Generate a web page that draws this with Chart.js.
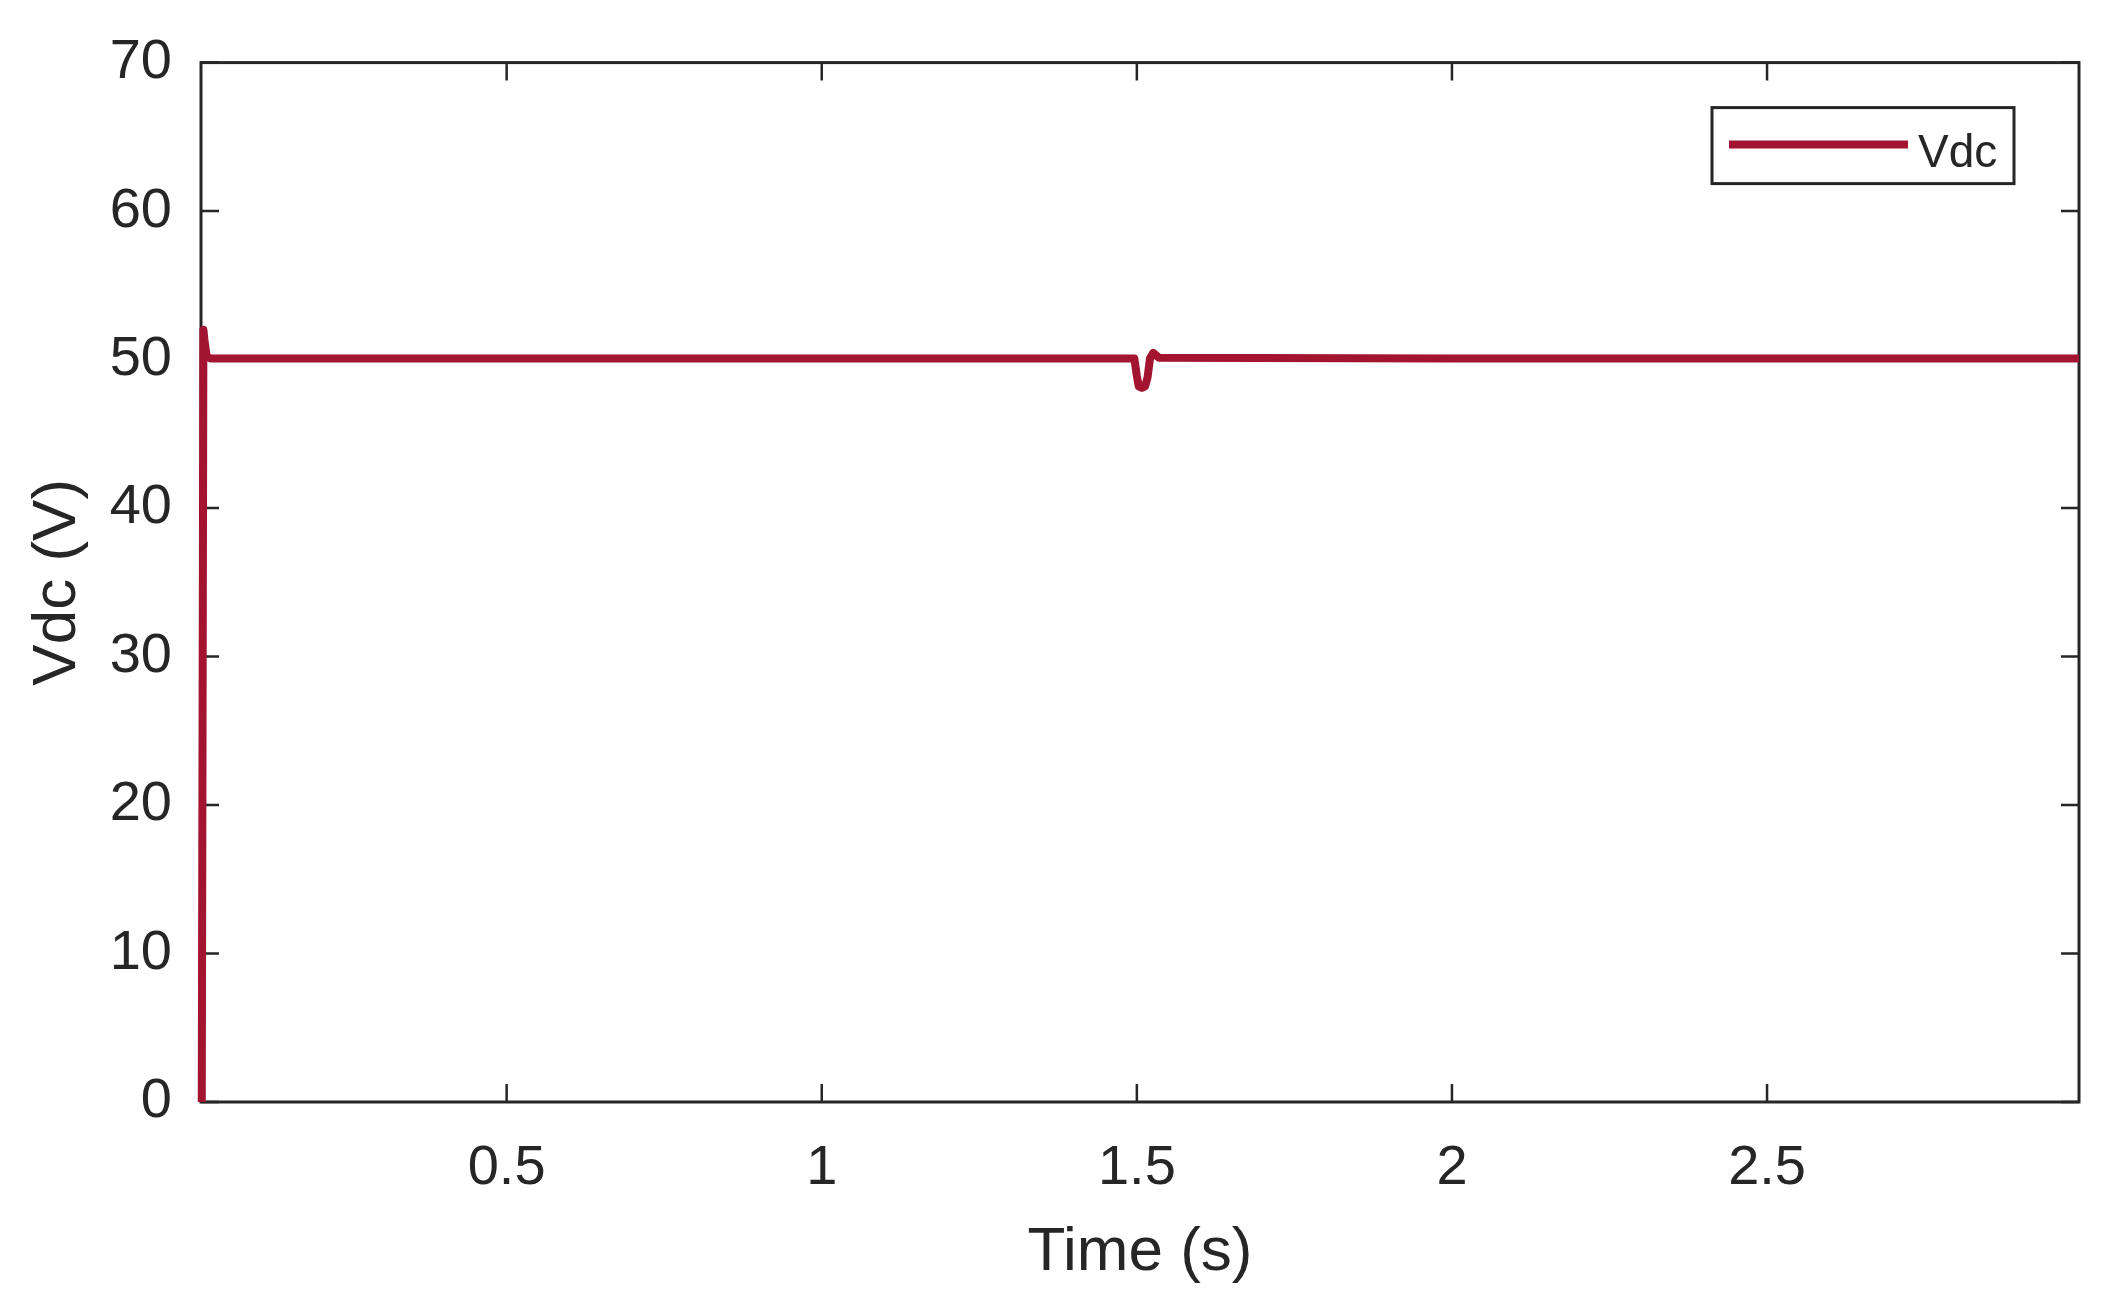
<!DOCTYPE html>
<html>
<head>
<meta charset="utf-8">
<script src="https://cdn.jsdelivr.net/npm/chart.js@4.4.1/dist/chart.umd.min.js"></script>
<style>
  html, body { margin: 0; padding: 0; background: #fff; }
  #vdcChart { display: block; }
</style>
</head>
<body>
<canvas id="vdcChart" width="2103" height="1312"></canvas>
<script>
// values
const time = [0.0162, 0.0188, 0.0205, 0.024, 0.03, 0.5, 1.0, 1.496, 1.5, 1.503, 1.508, 1.513, 1.517, 1.521, 1.526, 1.535, 2.0, 2.5, 2.995];
const vdc  = [0, 52, 51.3, 50.2, 50.08, 50.08, 50.08, 50.08, 48.9, 48.2, 48.1, 48.2, 48.8, 50.1, 50.45, 50.12, 50.08, 50.08, 50.08];
const xTicks = [0.5, 1, 1.5, 2, 2.5];
const yTicks = [0, 10, 20, 30, 40, 50, 60, 70];
const seriesName = 'Vdc';
const lineColor = '#A2142F';
const axisColor = '#262626';
const fontFamily = '"Liberation Sans", Arial, Helvetica, sans-serif';

// MATLAB style box with inward ticks on every side
const boxPlugin = {
  id: 'boxPlugin',
  beforeDatasetsDraw(chart) {
    const { ctx, chartArea: a, scales } = chart;
    const tl = 18;
    ctx.save();
    ctx.strokeStyle = axisColor;
    ctx.lineWidth = 3;
    ctx.strokeRect(a.left, a.top, a.right - a.left, a.bottom - a.top);
    ctx.lineWidth = 2.5;
    ctx.beginPath();
    xTicks.forEach(v => {
      const px = scales.x.getPixelForValue(v);
      ctx.moveTo(px, a.bottom); ctx.lineTo(px, a.bottom - tl);
      ctx.moveTo(px, a.top); ctx.lineTo(px, a.top + tl);
    });
    yTicks.forEach(v => {
      const py = scales.y.getPixelForValue(v);
      ctx.moveTo(a.left, py); ctx.lineTo(a.left + tl, py);
      ctx.moveTo(a.right, py); ctx.lineTo(a.right - tl, py);
    });
    ctx.stroke();
    ctx.restore();
  }
};

const legendPlugin = {
  id: 'legendPlugin',
  afterDatasetsDraw(chart) {
    const { ctx, chartArea: a } = chart;
    const ds = chart.data.datasets[0];
    const bx = a.right - 367, by = a.top + 45, bw = 302, bh = 76;
    ctx.save();
    ctx.fillStyle = '#fff';
    ctx.fillRect(bx, by, bw, bh);
    ctx.strokeStyle = axisColor;
    ctx.lineWidth = 3;
    ctx.strokeRect(bx, by, bw, bh);
    ctx.strokeStyle = ds.borderColor;
    ctx.lineWidth = 8;
    ctx.beginPath();
    ctx.moveTo(bx + 17, by + 37);
    ctx.lineTo(bx + 196, by + 37);
    ctx.stroke();
    ctx.fillStyle = axisColor;
    ctx.font = '46px ' + fontFamily;
    ctx.textBaseline = 'alphabetic';
    ctx.fillText(ds.label, bx + 206, by + 59);
    ctx.restore();
  }
};

const ctx = document.getElementById('vdcChart').getContext('2d');
const chartInstance = new Chart(ctx, {
  type: 'line',
  data: {
    datasets: [{
      label: seriesName,
      data: time.map((t, i) => ({ x: t, y: vdc[i] })),
      borderColor: lineColor,
      borderWidth: 8,
      borderJoinStyle: 'round',
      pointRadius: 0,
      tension: 0,
      fill: false,
      clip: false
    }]
  },
  options: {
    responsive: false,
    devicePixelRatio: 1,
    animation: false,
    layout: { padding: { left: 0, right: 24, top: 61, bottom: 0 } },
    plugins: { legend: { display: false }, tooltip: { enabled: false } },
    scales: {
      x: {
        type: 'linear',
        min: 0.015,
        max: 2.995,
        afterBuildTicks: s => { s.ticks = xTicks.map(v => ({ value: v })); },
        afterFit: s => { s.height = 210; },
        grid: { display: false, drawTicks: false },
        border: { display: false },
        ticks: {
          padding: 33,
          color: axisColor,
          font: { family: fontFamily, size: 56 },
          maxRotation: 0,
          callback: v => String(v)
        },
        title: {
          display: true,
          text: 'Time (s)',
          color: axisColor,
          font: { family: fontFamily, size: 62 },
          padding: { top: 0, bottom: 22 }
        }
      },
      y: {
        min: 0,
        max: 70,
        afterBuildTicks: s => { s.ticks = yTicks.map(v => ({ value: v })); },
        afterFit: s => { s.width = 201; },
        grid: { display: false, drawTicks: false },
        border: { display: false },
        ticks: {
          padding: 29,
          color: axisColor,
          font: { family: fontFamily, size: 56 },
          callback: v => String(v)
        },
        title: {
          display: true,
          text: 'Vdc (V)',
          color: axisColor,
          font: { family: fontFamily, size: 62 },
          padding: { top: 21, bottom: 0 }
        }
      }
    }
  },
  plugins: [boxPlugin, legendPlugin]
});
</script>
</body>
</html>
